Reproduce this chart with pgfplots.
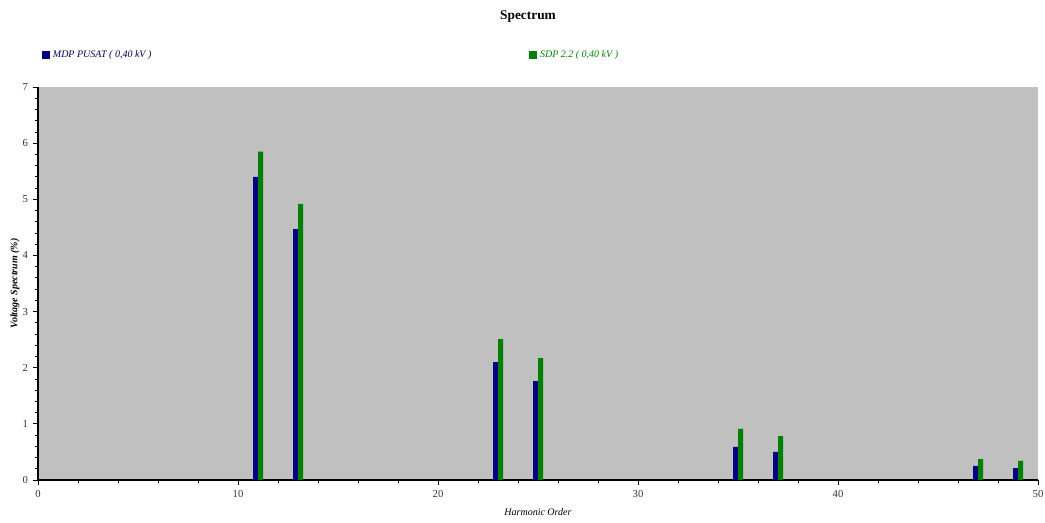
\documentclass[border=0pt]{standalone}
\usepackage{pgfplots}
\pgfplotsset{compat=1.18}
\usepackage{fontspec}
\setmainfont{Liberation Serif}
\definecolor{bgray}{RGB}{192,192,192}
\definecolor{bnavy}{RGB}{0,0,128}
\definecolor{bgreen}{RGB}{0,128,0}
\begin{document}
\begin{tikzpicture}
\useasboundingbox (0,0) rectangle (783.75pt,392.25pt);
\begin{axis}[
  at={(28.5pt,32.25pt)}, anchor=south west,
  scale only axis, width=750pt, height=294.75pt,
  xmin=0, xmax=50, ymin=0, ymax=7,
  axis x line*=bottom, axis y line*=left,
  axis line style={-, black, line width=0.8pt},
  axis background/.style={fill=bgray},
  xtick={0,10,...,50}, ytick={0,1,...,7},
  minor x tick num=4, minor y tick num=4,
  tick align=outside,
  major tick length=4pt, minor tick length=2.5pt,
  tick style={black, line width=0.6pt},
  /pgf/number format/assume math mode=true,
  tick label style={font=\fontsize{8}{9}\selectfont, text=black!80},
  title={\textbf{Spectrum}},
  title style={font=\fontsize{10}{11}\selectfont, at={(rel axis cs:0.49,1)}, anchor=center, yshift=46.5pt},
  xlabel={\textit{Harmonic Order}},
  xlabel style={font=\fontsize{7.5}{9}\selectfont, at={(rel axis cs:0.5,0)}, anchor=center, yshift=-24pt},
  ylabel={\textbf{\textit{Voltage Spectrum (\%)}}},
  ylabel style={font=\fontsize{7.5}{9}\selectfont, at={(axis description cs:-0.023,0.5)}, anchor=center},
  ybar, bar width=0.25,
  legend image code/.code={\fill[#1] (0pt,-3pt) rectangle (6pt,3pt);},
  legend columns=2,
  legend style={at={(rel axis cs:0,1)}, anchor=west, xshift=0pt, yshift=24pt,
    draw=none, fill=none, font=\fontsize{7.5}{9}\selectfont\itshape,
    /tikz/every even column/.append style={column sep=281.5pt}},
]
\addplot[fill=bnavy, draw=none, bar shift=-0.125] coordinates {
(11,5.40) (13,4.47) (23,2.10) (25,1.76) (35,0.59) (37,0.50) (47,0.25) (49,0.21)};
\addlegendentry{\textcolor{bnavy!70!black}{MDP PUSAT ( 0,40 kV )}}
\addplot[fill=bgreen, draw=none, bar shift=0.125] coordinates {
(11,5.85) (13,4.92) (23,2.51) (25,2.17) (35,0.91) (37,0.78) (47,0.37) (49,0.34)};
\addlegendentry{\textcolor{bgreen}{SDP 2.2 ( 0,40 kV )}}
\end{axis}
\end{tikzpicture}
\end{document}
